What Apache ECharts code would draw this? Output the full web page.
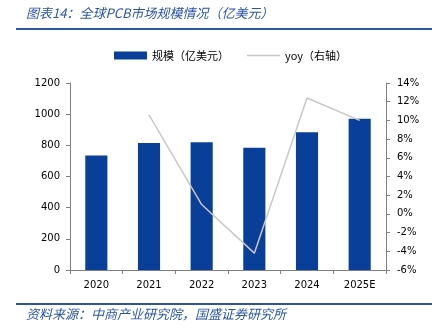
<!DOCTYPE html>
<html>
<head>
<meta charset="utf-8">
<script src="https://cdn.jsdelivr.net/npm/echarts@6/dist/echarts.min.js"></script>
<style>
html,body{margin:0;padding:0;background:#fff;}
#chart{width:440px;height:334px;}
</style>
</head>
<body>
<div id="chart"></div>
<script>
var categories = ['2020', '2021', '2022', '2023', '2024', '2025E'];
var scaleValues = [735, 815, 820, 785, 884, 970];
var yoyValues = [null, 10.6, 1.0, -4.2, 12.4, 10.0];
var leftTicks = { min: 0, max: 1200, interval: 200 };
var rightTicks = { min: -6, max: 14, interval: 2 };
var seriesNames = ['规模（亿美元）', 'yoy（右轴）'];
var titleText = '图表14：全球PCB市场规模情况（亿美元）';
var sourceText = '资料来源：中商产业研究院，国盛证券研究所';

var chart = echarts.init(document.getElementById('chart'), null, { renderer: 'canvas' });
var axisFont = { fontFamily: 'DejaVu Sans', fontSize: 10, color: '#000' };
var axisLine = { show: true, lineStyle: { color: '#7f7f7f', width: 1 } };
chart.setOption({
  animation: false,
  backgroundColor: '#fff',
  graphic: [
    { type: 'text', left: 26, top: 7, style: { text: titleText, fill: '#2a56a4', font: 'italic 13px "Noto Sans CJK SC"' } },
    { type: 'rect', shape: { x: 16, y: 28, width: 416, height: 2 }, style: { fill: '#2a56a4' } },
    { type: 'rect', shape: { x: 16, y: 303, width: 416, height: 2 }, style: { fill: '#2a56a4' } },
    { type: 'text', left: 26, top: 308, style: { text: sourceText, fill: '#2a56a4', font: 'italic 13px "Noto Sans CJK SC"' } }
  ],
  legend: {
    top: 45,
    left: 109,
    itemGap: 18,
    itemWidth: 33,
    itemHeight: 8,
    itemTextGap: 3,
    textStyle: { fontFamily: '"Noto Sans CJK SC"', fontSize: 11, color: '#000' },
    data: [
      { name: seriesNames[0], icon: 'rect' },
      { name: seriesNames[1], icon: 'path://M0,0 L33,0 L33,1.5 L0,1.5 Z', itemStyle: { color: '#c8c8c8' } }
    ]
  },
  grid: { left: 70, right: 54, top: 83, bottom: 64, containLabel: false },
  xAxis: {
    type: 'category',
    data: categories,
    boundaryGap: true,
    axisLine: axisLine,
    axisTick: { show: true, length: 4, lineStyle: { color: '#7f7f7f' } },
    axisLabel: Object.assign({ margin: 10 }, axisFont)
  },
  yAxis: [
    {
      type: 'value', min: leftTicks.min, max: leftTicks.max, interval: leftTicks.interval,
      axisLine: axisLine,
      axisTick: { show: true, length: 4, lineStyle: { color: '#7f7f7f' } },
      splitLine: { show: false },
      axisLabel: Object.assign({ margin: 10, formatter: function (v) { return String(v); } }, axisFont)
    },
    {
      type: 'value', min: rightTicks.min, max: rightTicks.max, interval: rightTicks.interval,
      position: 'right',
      axisLine: axisLine,
      axisTick: { show: true, length: 4, lineStyle: { color: '#7f7f7f' } },
      splitLine: { show: false },
      axisLabel: Object.assign({ margin: 11, formatter: '{value}%' }, axisFont)
    }
  ],
  series: [
    {
      name: seriesNames[0], type: 'bar', data: scaleValues, barWidth: '42%',
      itemStyle: { color: '#0a3f99' }
    },
    {
      name: seriesNames[1], type: 'line', yAxisIndex: 1, data: yoyValues,
      symbol: 'none', connectNulls: false,
      lineStyle: { color: '#c8c8c8', width: 1.5 },
      itemStyle: { color: '#c8c8c8' }
    }
  ]
});
</script>
</body>
</html>
